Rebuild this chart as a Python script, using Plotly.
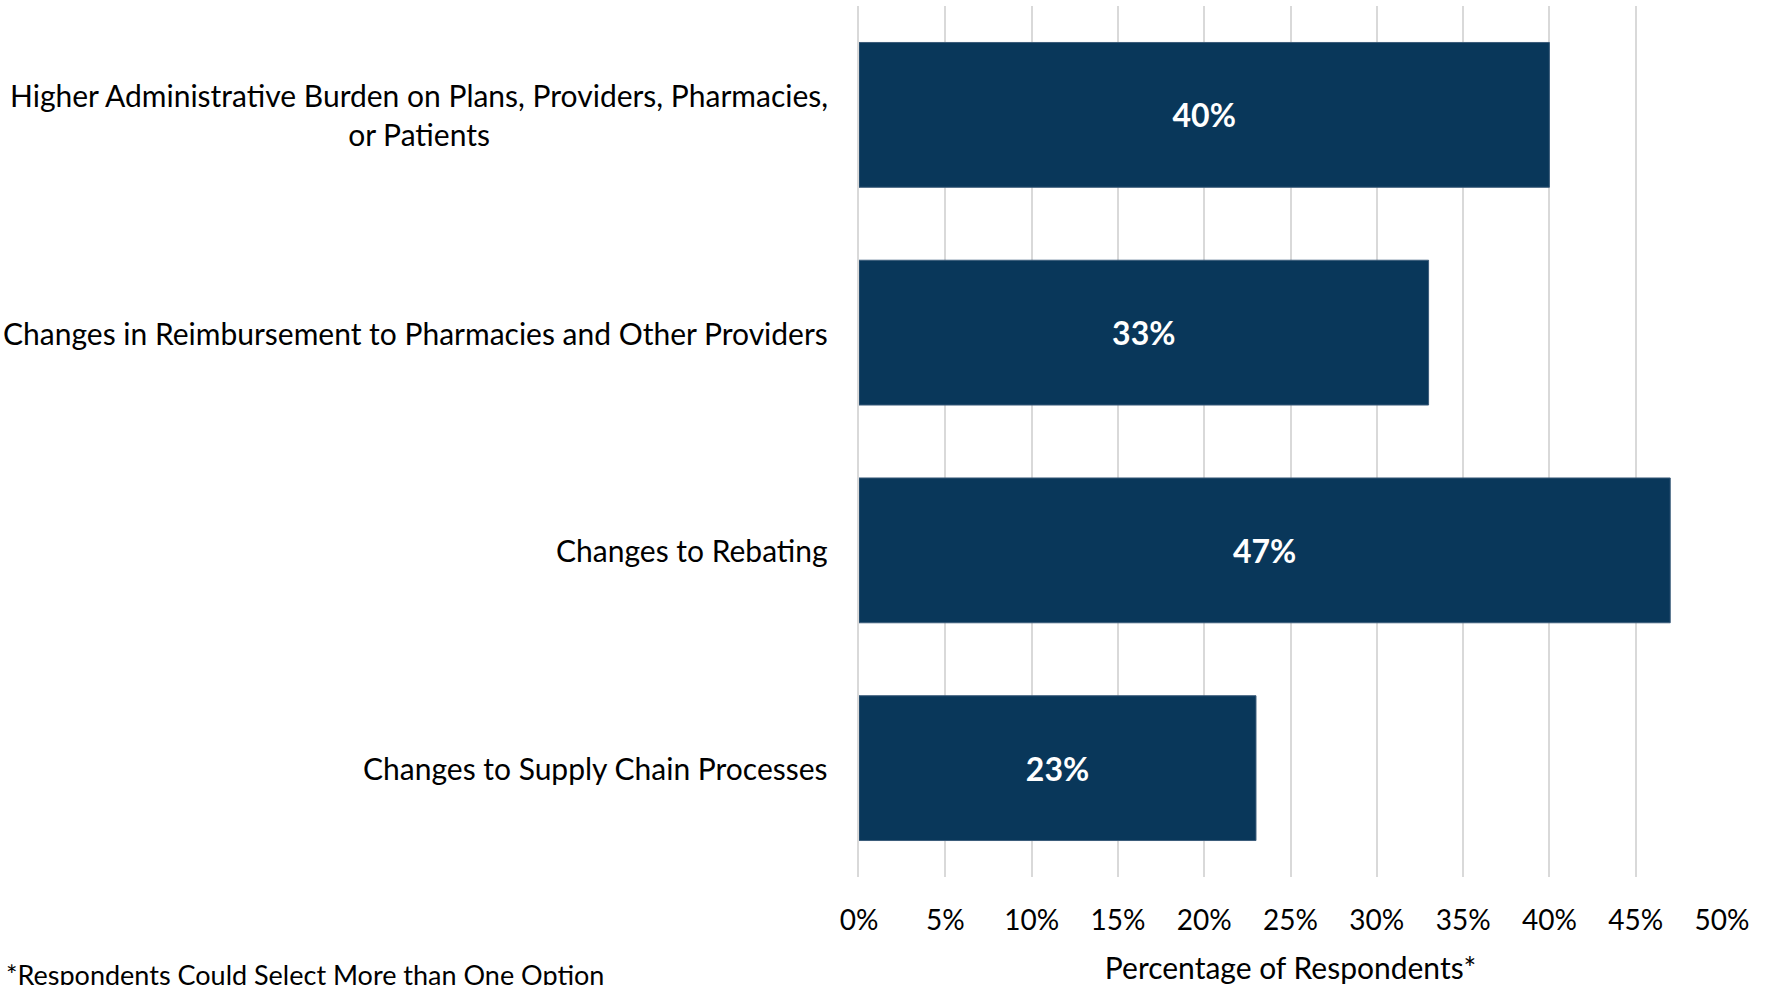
import plotly.graph_objects as go

categories = [
    "Higher Administrative Burden on Plans, Providers, Pharmacies,<br>or Patients",
    "Changes in Reimbursement to Pharmacies and Other Providers",
    "Changes to Rebating",
    "Changes to Supply Chain Processes",
]
values = [40, 33, 47, 23]
bar_labels = ["40%", "33%", "47%", "23%"]
x_tickvals = [0, 5, 10, 15, 20, 25, 30, 35, 40, 45, 50]
x_ticktext = ["0%", "5%", "10%", "15%", "20%", "25%", "30%", "35%", "40%", "45%", "50%"]

FONT = "Lato"
W, H = 1769, 985
ML, MR, MT, MB = 859, 47, 6, 106
plot_h = H - MT - MB

fig = go.Figure()
fig.add_trace(go.Bar(
    y=categories,
    x=values,
    orientation="h",
    marker=dict(color="#09375A", line=dict(color="#3B5C7A", width=1)),
    text=bar_labels,
    textposition="inside",
    insidetextanchor="middle",
    textfont=dict(family=FONT, size=32, color="white", weight="bold"),
    textangle=0,
    hoverinfo="skip",
))

for cat in categories:
    fig.add_annotation(
        x=0, xref="x", y=cat, yref="y",
        text=cat, showarrow=False,
        xanchor="right", yanchor="middle", align="center",
        xshift=-29,
        font=dict(family=FONT, size=30, color="#000000"),
    )

footnote_top_px = 958
fig.add_annotation(
    x=0, xref="paper", xshift=-ML + 4,
    y=(H - MB - footnote_top_px) / plot_h, yref="paper", yanchor="top",
    xanchor="left",
    text="*Respondents Could Select More than One Option",
    showarrow=False,
    font=dict(family=FONT, size=27, color="#000000"),
)

fig.update_layout(
    width=W, height=H,
    margin=dict(l=ML, r=MR, t=MT, b=MB, pad=0),
    paper_bgcolor="white", plot_bgcolor="white",
    bargap=0.335,
    showlegend=False,
    font=dict(family=FONT, size=27, color="#000000"),
    uniformtext=dict(mode=False),
)
fig.update_xaxes(
    range=[0, 50],
    tickvals=x_tickvals, ticktext=x_ticktext,
    showgrid=True, gridcolor="#D9D9D9", gridwidth=2,
    zeroline=False, showline=False, ticks="",
    ticklabelstandoff=24,
    tickfont=dict(family=FONT, size=28, color="#000000"),
    title=dict(text="Percentage of Respondents*", standoff=22,
               font=dict(family=FONT, size=30, color="#000000")),
    fixedrange=True,
)
fig.update_yaxes(
    categoryorder="array", categoryarray=categories[::-1],
    autorange=False, range=[-0.5, 3.5],
    showticklabels=False, showgrid=False, zeroline=False,
    showline=True, linecolor="#D9D9D9", linewidth=2, ticks="",
    fixedrange=True,
)

fig.write_html("out.html", config={"displayModeBar": False})
